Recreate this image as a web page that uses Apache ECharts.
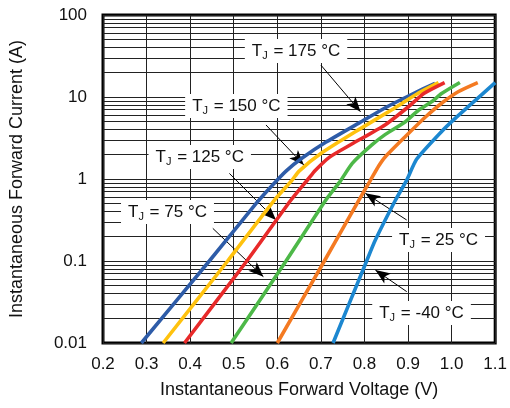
<!DOCTYPE html>
<html>
<head>
<meta charset="utf-8">
<script src="https://cdn.jsdelivr.net/npm/echarts@6/dist/echarts.min.js"></script>
<style>
html,body{margin:0;padding:0;background:#fff;}
#chart{width:510px;height:408px;}
</style>
</head>
<body>
<div id="chart"></div>
<script>
// ---- data (voltage V, current A) ----
const tj175 = [[0.288,0.01],[0.444,0.1],[0.551,0.5],[0.585,0.8],[0.620,1.25],[0.657,1.8],[0.711,2.8],[0.790,4.9],[0.850,7.5],[0.909,10.8],[0.962,14.7]];
const tj150 = [[0.338,0.01],[0.486,0.1],[0.593,0.55],[0.634,0.97],[0.650,1.25],[0.703,2.1],[0.787,4.0],[0.863,7.0],[0.924,11.2],[0.970,15]];
const tj125 = [[0.387,0.01],[0.530,0.1],[0.631,0.55],[0.671,1.0],[0.687,1.27],[0.720,1.85],[0.770,2.65],[0.848,4.6],[0.901,7.6],[0.937,11.1],[0.984,15]];
const tj75  = [[0.494,0.01],[0.620,0.1],[0.711,0.55],[0.745,0.95],[0.772,1.55],[0.817,2.6],[0.848,3.5],[0.894,5.0],[0.924,6.9],[0.955,8.8],[0.977,11],[1.019,15]];
const tj25  = [[0.600,0.01],[0.708,0.1],[0.787,0.55],[0.814,0.97],[0.833,1.45],[0.848,1.87],[0.894,3.3],[0.940,5.7],[0.977,8.4],[1.015,11.6],[1.060,15]];
const tjm40 = [[0.728,0.01],[0.805,0.1],[0.825,0.18],[0.871,0.55],[0.897,0.97],[0.920,1.75],[0.975,3.7],[1.010,5.6],[1.046,8.3],[1.100,15]];

const seriesNames  = ['T_J = 175 °C','T_J = 150 °C','T_J = 125 °C','T_J = 75 °C','T_J = 25 °C','T_J = -40 °C'];
const seriesColors = ['#2E5CA8','#FFC20E','#E82A2A','#4DB848','#F47A22','#1C87D0'];
const seriesData   = [tj175, tj150, tj125, tj75, tj25, tjm40];

// axis ticks
const xMin = 0.2, xMax = 1.1, xStep = 0.1;
const yMin = 0.01, yMax = 100;
const minorGridValues = [0.02,0.03,0.04,0.05,0.06,0.07,0.08,0.09,
  0.2,0.3,0.4,0.5,0.6,0.7,0.8,0.9, 2,3,4,5,6,7,8,9, 20,30,40,50,60,70,80,90];

// annotation labels: [tempText, labelCenter, arrowStart, arrowTip]
const annTemps  = ['175','150','125','75','25','-40'];
const annLabelV = [0.643, 0.506, 0.422, 0.348, 0.970, 0.931];
const annLabelI = [36.4, 7.76, 1.85, 0.396, 0.180, 0.0232];
const annFromV  = [0.700, 0.574, 0.490, 0.452, 0.897, 0.897];
const annFromI  = [24.5, 4.56, 1.17, 0.25, 0.316, 0.0423];
const annToV    = [0.791, 0.661, 0.597, 0.568, 0.802, 0.825];
const annToI    = [6.6, 1.48, 0.316, 0.0644, 0.67, 0.0776];

const FONT = '"Liberation Sans", Arial, sans-serif';

const chart = echarts.init(document.getElementById('chart'), null, {renderer:'canvas'});

const series = seriesData.map((d, i) => ({
  name: seriesNames[i],
  type: 'line',
  data: d,
  showSymbol: false,
  smooth: 0.2,
  clip: true,
  z: 5,
  lineStyle: {color: seriesColors[i], width: 3.6},
  itemStyle: {color: seriesColors[i]}
}));

// minor log grid lines
series.unshift({
  type: 'line', data: [], silent: true, z: 1,
  markLine: {
    silent: true, symbol: ['none','none'], animation: false,
    label: {show: false},
    lineStyle: {color: '#222', width: 1, type: 'solid'},
    data: minorGridValues.map(v => ({yAxis: v}))
  }
});

// annotations
series.push({
  type: 'line', data: [], silent: true, z: 10,
  markLine: {
    silent: true, animation: false,
    symbol: ['none','arrow'], symbolSize: [9, 15],
    label: {show: false},
    lineStyle: {color: '#000', width: 1, type: 'solid'},
    data: annTemps.map((t, i) => [
      {coord: [annFromV[i], annFromI[i]]},
      {coord: [annToV[i], annToI[i]]}
    ])
  },
  markPoint: {
    silent: true, animation: false,
    symbol: 'rect', symbolSize: 0,
    label: {
      show: true, position: 'inside',
      backgroundColor: '#fff',
      padding: [2, 7, 2, 7],
      color: '#111',
      rich: {
        t: {fontSize: 17, fontFamily: FONT, color: '#111'},
        s: {fontSize: 11, fontFamily: FONT, color: '#111', padding: [9, 1, 0, 0]}
      }
    },
    data: annTemps.map((t, i) => ({
      coord: [annLabelV[i], annLabelI[i]],
      label: {formatter: '{t|T}{s|J}{t| = ' + t + ' °C}'}
    }))
  }
});

chart.setOption({
  animation: false,
  backgroundColor: '#fff',
  grid: {left: 103, right: 13, top: 15, bottom: 65, show: true, borderColor: '#000', borderWidth: 3, backgroundColor: 'transparent'},
  xAxis: {
    type: 'value', min: xMin, max: xMax, interval: xStep,
    name: 'Instantaneous Forward Voltage (V)',
    nameLocation: 'middle', nameGap: 38,
    nameTextStyle: {fontSize: 18, fontFamily: FONT, color: '#111'},
    axisLine: {show: false},
    axisTick: {show: false},
    axisLabel: {fontSize: 17, fontFamily: FONT, color: '#111', margin: 13,
      formatter: v => v.toFixed(1)},
    splitLine: {show: true, lineStyle: {color: '#222', width: 1}}
  },
  yAxis: {
    type: 'log', logBase: 10, min: yMin, max: yMax,
    name: 'Instantaneous Forward Current (A)',
    nameLocation: 'middle', nameGap: 77,
    nameTextStyle: {fontSize: 18, fontFamily: FONT, color: '#111'},
    axisLine: {show: false},
    axisTick: {show: false},
    axisLabel: {fontSize: 17, fontFamily: FONT, color: '#111', margin: 16,
      formatter: v => (v >= 1 ? String(Math.round(v)) : String(+v.toPrecision(1)))},
    splitLine: {show: true, lineStyle: {color: '#222', width: 1}}
  },
  series: series
});
</script>
</body>
</html>
